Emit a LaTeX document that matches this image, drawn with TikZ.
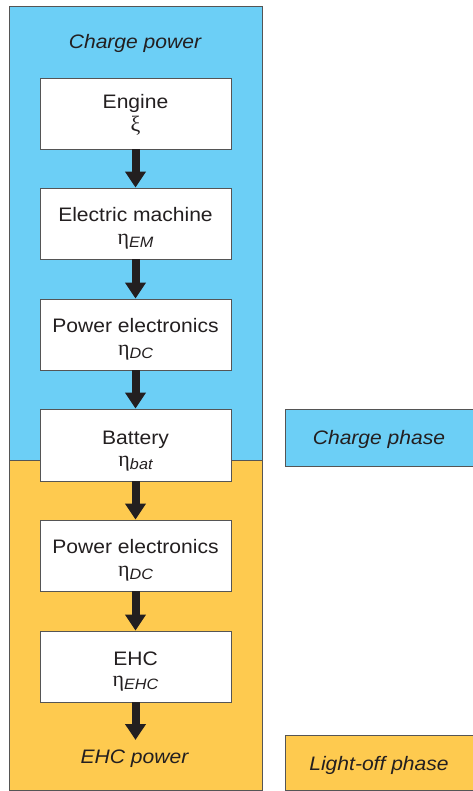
\documentclass[tikz,border=0pt]{standalone}
\usepackage{fontspec}
\setmainfont{Liberation Sans}[FakeStretch=1.08]
\newfontfamily\grk{Liberation Serif}
\usetikzlibrary{arrows.meta}
\definecolor{cblue}{RGB}{108,207,246}
\definecolor{corange}{RGB}{254,202,79}
\definecolor{ink}{RGB}{35,31,32}
\definecolor{edgegray}{RGB}{85,85,85}
\newcommand{\grksym}[1]{{\fontsize{22}{22}\grk #1}}
\newcommand{\effsym}[1]{\grksym{η}\raisebox{-0.3ex}{\fontsize{15}{15}\selectfont\itshape #1}}
\begin{document}
\begin{tikzpicture}[x=1pt,y=-1pt,
  box/.style={draw=edgegray,line width=0.9pt,fill=white,minimum width=191pt,minimum height=71pt,inner sep=0pt},
  lbl/.style={anchor=base,text=ink,font=\fontsize{19.5}{20}\selectfont,inner sep=0pt},
  ilbl/.style={lbl,font=\fontsize{19.5}{20}\selectfont\itshape},
  flow/.style={draw=ink,line width=8pt,-{Triangle[length=16pt,width=20pt]}},
  legendbox/.style={draw=edgegray,line width=0.9pt,minimum width=190pt,inner sep=0pt}]
\useasboundingbox (0,0) rectangle (472,791);
% phase regions
\fill[cblue] (9,6) rectangle (262,460);
\fill[corange] (9,460) rectangle (262,790);
\draw[edgegray,line width=0.9pt] (9,6) rectangle (262,790);
\draw[edgegray,line width=0.9pt] (9,460) -- (262,460);
% titles
\node[ilbl] (tin) at (135,49) {Charge power};
\node[ilbl] (tout) at (134.5,763) {EHC power};
% boxes
\node[box] (eng) at (135.5,113.5) {};
\node[box] (em)  at (135.5,223.5) {};
\node[box] (pe1) at (135.5,334.5) {};
\node[box,minimum height=72pt] (bat) at (135.5,445) {};
\node[box] (pe2) at (135.5,555.5) {};
\node[box] (ehc) at (135.5,666.5) {};
\coordinate (out) at (135.5,740);
% labels
\node[lbl] (engA) at ([yshift=-31pt]eng.north) {Engine};
\node[lbl] (engB) at ([yshift=-54pt]eng.north) {\grksym{ξ}};
\node[lbl] (emA) at ([yshift=-34pt]em.north) {Electric machine};
\node[lbl] (emB) at ([yshift=-57pt]em.north) {\effsym{EM}};
\node[lbl] (pe1A) at ([yshift=-34pt]pe1.north) {Power electronics};
\node[lbl] (pe1B) at ([yshift=-57pt]pe1.north) {\effsym{DC}};
\node[lbl] (batA) at ([yshift=-35.5pt]bat.north) {Battery};
\node[lbl] (batB) at ([yshift=-58pt]bat.north) {\effsym{bat}};
\node[lbl] (pe2A) at ([yshift=-34pt]pe2.north) {Power electronics};
\node[lbl] (pe2B) at ([yshift=-57pt]pe2.north) {\effsym{DC}};
\node[lbl] (ehcA) at ([yshift=-35pt]ehc.north) {EHC};
\node[lbl] (ehcB) at ([yshift=-56pt]ehc.north) {\effsym{EHC}};
% arrows
\draw[flow] (eng.south) -- (em.north);
\draw[flow] (em.south) -- (pe1.north);
\draw[flow] (pe1.south) -- (bat.north);
\draw[flow] (bat.south) -- (pe2.north);
\draw[flow] (pe2.south) -- (ehc.north);
\draw[flow] (ehc.south) -- (out);
% legend
\node[legendbox,fill=cblue,minimum height=57pt] (lg1) at (380,437.5) {};
\node[ilbl] (lg1t) at (379,444) {Charge phase};
\node[legendbox,fill=corange,minimum height=55pt] (lg2) at (380,762.5) {};
\node[ilbl] (lg2t) at (379,770) {Light-off phase};
\end{tikzpicture}
\end{document}
